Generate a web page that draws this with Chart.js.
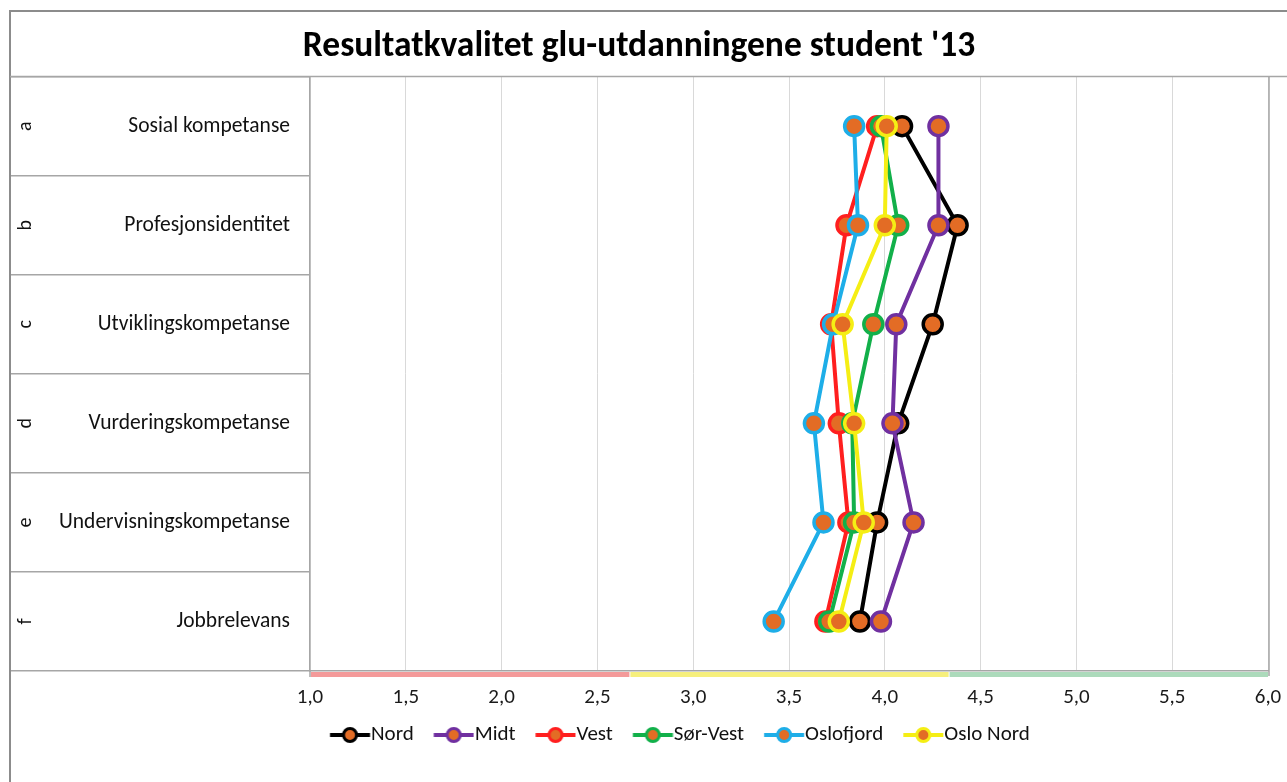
<!DOCTYPE html>
<html lang="no">
<head>
    <meta charset="UTF-8">
    <title>Resultatkvalitet glu-utdanningene student '13</title>
    <script src="https://cdn.jsdelivr.net/npm/chart.js"></script>
    <style>
        body {
            margin: 0;
            background-color: #ffffff;
        }
        #wrap {
            width: 1287px;
            height: 782px;
            position: relative;
        }
    </style>
</head>
<body>

<div id="wrap">
    <canvas id="chart"></canvas>
</div>

<script>
    // values
    const categories = ['Sosial kompetanse', 'Profesjonsidentitet', 'Utviklingskompetanse', 'Vurderingskompetanse', 'Undervisningskompetanse', 'Jobbrelevans'];
    const letters = ['a', 'b', 'c', 'd', 'e', 'f'];
    const seriesNames = ['Nord', 'Midt', 'Vest', 'Sør-Vest', 'Oslofjord', 'Oslo Nord'];
    const seriesColors = ['#000000', '#7030a0', '#ff1f1f', '#12b04a', '#1eaee8', '#f5ee14'];

    const nord      = [4.09, 4.38, 4.25, 4.07, 3.96, 3.87];
    const midt      = [4.28, 4.28, 4.06, 4.04, 4.15, 3.98];
    const vest      = [3.96, 3.80, 3.72, 3.76, 3.81, 3.69];
    const sorVest   = [3.98, 4.07, 3.94, 3.83, 3.84, 3.71];
    const oslofjord = [3.84, 3.86, 3.73, 3.63, 3.68, 3.42];
    const osloNord  = [4.01, 4.00, 3.78, 3.84, 3.89, 3.76];

    const xTicks = [1.0, 1.5, 2.0, 2.5, 3.0, 3.5, 4.0, 4.5, 5.0, 5.5, 6.0];
    // coloured band under the value axis
    const bandEdges = [1.0, 2.667, 4.333, 6.0];
    const bandColors = ['#f49a9a', '#f6ef7c', '#acdabb'];

    const seriesValues = [nord, midt, vest, sorVest, oslofjord, osloNord];
    const markerFill = '#e36c25';
    const gridGrey = '#a6a6a6';
    const font = "Carlito, Lato, 'Open Sans', sans-serif";

    // line + marker images for the legend (drawn right of centre so the text sits close)
    function legendIcon(color) {
        const c = document.createElement('canvas');
        c.width = 60;
        c.height = 22;
        const g = c.getContext('2d');
        const start = 19.25;
        g.strokeStyle = color;
        g.lineWidth = 4;
        g.beginPath();
        g.moveTo(start, 11);
        g.lineTo(start + 40, 11);
        g.stroke();
        g.beginPath();
        g.arc(start + 20, 11, 6.5, 0, Math.PI * 2);
        g.fillStyle = markerFill;
        g.fill();
        g.lineWidth = 3;
        g.stroke();
        return c;
    }

    const datasets = seriesNames.map((name, i) => ({
        label: name,
        data: seriesValues[i],
        borderColor: seriesColors[i],
        backgroundColor: seriesColors[i],
        borderWidth: 4,
        pointRadius: 9.5,
        pointHoverRadius: 9.5,
        pointBorderWidth: 3.5,
        pointBackgroundColor: markerFill,
        pointBorderColor: seriesColors[i],
        tension: 0,
        fill: false,
        order: seriesNames.length - i
    }));

    // frame, rotated row letters and the red/yellow/green band
    const decorations = {
        id: 'decorations',
        afterDraw(chart) {
            const ctx = chart.ctx;
            const area = chart.chartArea;
            const xs = chart.scales.x;
            const ys = chart.scales.y;
            ctx.save();

            ctx.strokeStyle = '#8c8c8c';
            ctx.lineWidth = 2;
            ctx.beginPath();
            ctx.moveTo(10, 782);
            ctx.lineTo(10, 11);
            ctx.lineTo(1287, 11);
            ctx.stroke();

            ctx.strokeStyle = gridGrey;
            ctx.lineWidth = 1.5;
            ctx.beginPath();
            ctx.moveTo(10, area.top);
            ctx.lineTo(1287, area.top);
            ctx.moveTo(area.right + 1, area.top);
            ctx.lineTo(area.right + 1, area.bottom + 5);
            ctx.moveTo(area.left, area.bottom);
            ctx.lineTo(area.left, area.bottom + 6);
            ctx.stroke();

            for (let i = 0; i < bandColors.length; i++) {
                const x1 = xs.getPixelForValue(bandEdges[i]);
                const x2 = xs.getPixelForValue(bandEdges[i + 1]);
                ctx.fillStyle = bandColors[i];
                ctx.fillRect(x1 + 1, area.bottom + 1, x2 - x1 - 1, 5);
            }

            ctx.fillStyle = '#111111';
            ctx.font = '20px ' + font;
            ctx.textAlign = 'center';
            ctx.textBaseline = 'middle';
            letters.forEach((l, i) => {
                const y = ys.getPixelForValue(i);
                ctx.save();
                ctx.translate(26, y);
                ctx.rotate(-Math.PI / 2);
                ctx.fillText(l, 0, 0);
                ctx.restore();
            });
            ctx.restore();
        }
    };

    new Chart(document.getElementById('chart'), {
        type: 'line',
        data: {
            labels: categories,
            datasets: datasets
        },
        options: {
            indexAxis: 'y',
            responsive: true,
            maintainAspectRatio: false,
            animation: false,
            layout: {
                padding: { left: 10, right: 19, top: 0, bottom: 26.5 }
            },
            scales: {
                x: {
                    type: 'linear',
                    position: 'bottom',
                    min: 1,
                    max: 6,
                    afterBuildTicks: (scale) => {
                        scale.ticks = xTicks.map(v => ({ value: v }));
                    },
                    afterFit: (scale) => {
                        scale.height = 42.5;
                        scale.paddingLeft = 0;
                        scale.paddingRight = 0;
                    },
                    ticks: {
                        color: '#1a1a1a',
                        font: { family: font, size: 21 },
                        padding: 14,
                        maxRotation: 0,
                        callback: (v) => Number(v).toFixed(1).replace('.', ',')
                    },
                    grid: {
                        color: '#d9d9d9',
                        lineWidth: 1,
                        drawTicks: false
                    },
                    border: { display: true, color: gridGrey, width: 1.5 }
                },
                y: {
                    type: 'category',
                    position: 'left',
                    offset: true,
                    afterFit: (scale) => {
                        scale.width = 300;
                        scale.paddingTop = 0;
                        scale.paddingBottom = 0;
                    },
                    ticks: {
                        color: '#111111',
                        font: { family: font, size: 21.5 },
                        padding: -280
                    },
                    grid: {
                        offset: true,
                        drawOnChartArea: false,
                        drawTicks: true,
                        tickLength: 300,
                        color: gridGrey,
                        lineWidth: 1.5
                    },
                    border: { display: true, color: gridGrey, width: 1.5 }
                }
            },
            plugins: {
                title: {
                    display: true,
                    text: "Resultatkvalitet glu-utdanningene student '13",
                    color: '#000000',
                    font: { family: font, size: 35.5, weight: 'bold' },
                    padding: { top: 26, bottom: 8 }
                },
                legend: {
                    position: 'bottom',
                    align: 'start',
                    fullSize: false,
                    labels: {
                        usePointStyle: true,
                        pointStyleWidth: 39.5,
                        padding: 11,
                        color: '#111111',
                        font: { family: font, size: 21 },
                        generateLabels: (chart) => chart.data.datasets.map((ds, i) => ({
                            text: ds.label,
                            fillStyle: markerFill,
                            strokeStyle: ds.borderColor,
                            lineWidth: 3,
                            pointStyle: legendIcon(ds.borderColor),
                            hidden: false,
                            datasetIndex: i,
                            fontColor: '#111111'
                        }))
                    }
                },
                tooltip: { enabled: false }
            }
        },
        plugins: [decorations]
    });
</script>

</body>
</html>
